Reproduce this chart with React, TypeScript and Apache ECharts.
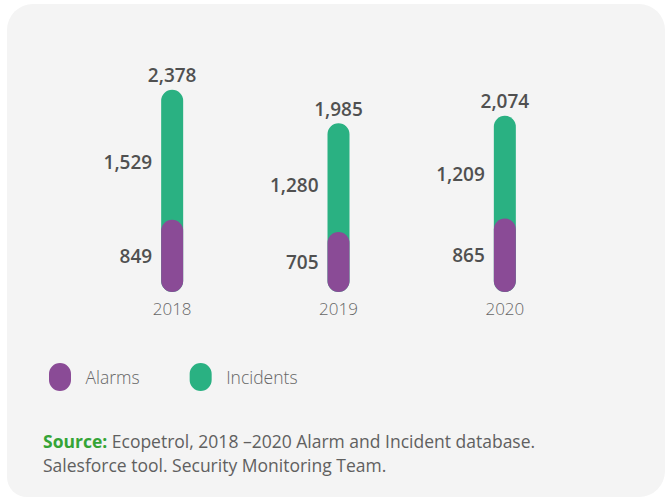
import React, { useEffect, useRef } from "react";
import * as echarts from "echarts";

const categories = ["2018", "2019", "2020"];
const alarms = [849, 705, 865];
const incidents = [1529, 1280, 1209];
const legendNames = ["Alarms", "Incidents"];

const GREEN = "#2ab182";
const PURPLE = "#8a4b96";
const FONT = "'Open Sans', 'Noto Sans', sans-serif";

const fmt = (v: number) => new Intl.NumberFormat("en-US").format(v);

export default function App() {
  const ref = useRef<HTMLDivElement>(null);
  useEffect(() => {
    if (!ref.current) return;
    const chart = echarts.init(ref.current, undefined, { renderer: "svg" });
    const totals = alarms.map((a, i) => a + incidents[i]);
    const capsule = "path://M0,11 A11,11 0 0 1 22,11 L22,17 A11,11 0 0 1 0,17 Z";
    const valueLabel = {
      show: true,
      color: "#505050",
      fontSize: 19,
      fontWeight: 600,
      fontFamily: FONT,
      formatter: (p: any) => fmt(p.value),
    };
    chart.setOption({
      animation: false,
      backgroundColor: "#ffffff",
      textStyle: { fontFamily: FONT },
      grid: { left: 89, right: 81, top: 37, bottom: 206, containLabel: false },
      xAxis: {
        type: "category",
        data: categories,
        axisLine: { show: false },
        axisTick: { show: false },
        axisLabel: { color: "#666666", fontSize: 17, fontWeight: 300, margin: 8, fontFamily: FONT },
      },
      yAxis: { type: "value", min: 0, max: 3000, show: false, splitLine: { show: false } },
      legend: {
        data: legendNames.map((n) => ({ name: n, icon: capsule })),
        left: 44,
        top: 358,
        itemWidth: 23,
        itemHeight: 28,
        itemGap: 50,
        selectedMode: false,
        textStyle: { color: "#666666", fontSize: 17.5, fontWeight: 300, fontFamily: FONT, padding: [0, 0, 0, 9] },
      },
      graphic: [
        {
          type: "rect",
          z: -10,
          silent: true,
          shape: { x: 7, y: 4, width: 658, height: 493, r: [26, 26, 26, 20] },
          style: { fill: "#f4f4f4" },
        },
        {
          type: "text",
          left: 43,
          top: 429,
          silent: true,
          style: {
            text: "{s|Source:} Ecopetrol, 2018 –2020 Alarm and Incident database.\nSalesforce tool. Security Monitoring Team.",
            fill: "#606060",
            fontSize: 17.5,
            fontFamily: FONT,
            lineHeight: 24,
            rich: {
              s: { fill: "#35a436", fontWeight: "bold", fontSize: 17.5, fontFamily: FONT, lineHeight: 24 },
            },
          },
        },
      ],
      series: [
        {
          name: "Incidents",
          type: "bar",
          data: totals,
          barWidth: 22,
          barGap: "-100%",
          itemStyle: { color: GREEN, borderRadius: 11 },
          label: { ...valueLabel, position: "top", distance: 5 },
        },
        {
          name: "Alarms",
          type: "bar",
          data: alarms,
          barWidth: 22,
          barGap: "-100%",
          itemStyle: { color: PURPLE, borderRadius: 11 },
          label: { ...valueLabel, position: "left", distance: 9 },
        },
        {
          name: "_base",
          type: "bar",
          stack: "lab",
          data: alarms,
          barWidth: 22,
          barGap: "-100%",
          silent: true,
          itemStyle: { color: "rgba(0,0,0,0)" },
        },
        {
          name: "_inc",
          type: "bar",
          stack: "lab",
          data: incidents,
          barWidth: 22,
          barGap: "-100%",
          silent: true,
          itemStyle: { color: "rgba(0,0,0,0)" },
          label: { ...valueLabel, position: "left", distance: 9, offset: [0, 7] },
        },
      ],
    });
    return () => chart.dispose();
  }, []);
  return (
    <div
      ref={ref}
      style={{ position: "fixed", left: 0, top: 0, width: 669, height: 498 }}
    />
  );
}
